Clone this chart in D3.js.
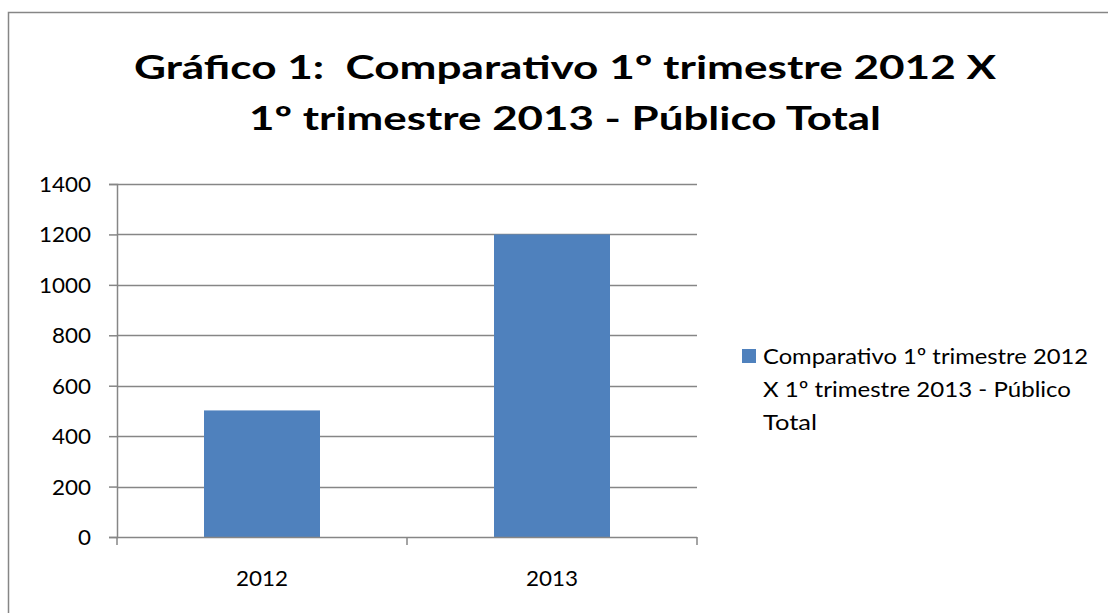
<!DOCTYPE html>
<html>
<head>
<meta charset="utf-8">
<script src="https://cdn.jsdelivr.net/npm/d3@7"></script>
<style>
  body { margin: 0; background: #fff; }
  text { font-family: Lato, "Open Sans", sans-serif; fill: #000; }
</style>
</head>
<body>
<div id="chart"></div>
<script>
// Dados
const categories = ["2012", "2013"];
const values = [502, 1200];
const yTicks = [0, 200, 400, 600, 800, 1000, 1200, 1400];
const titleLines = ["Gráfico 1:\u00a0 Comparativo 1º trimestre 2012 X", "1º trimestre 2013 - Público Total"];
const legendLines = ["Comparativo 1º trimestre 2012", "X 1º trimestre 2013 - Público", "Total"];

const W = 1108, H = 613;
const margin = { top: 184, right: 411, bottom: 76, left: 117 },
    width = W - margin.left - margin.right,
    height = H - margin.top - margin.bottom;

// largura alvo (em px) do texto, para imitar a fonte larga do original
const titleWidths = [862, 632];
const legendWidths = [325, 308, 54];
const digitWidth = 13;

const svg = d3.select("#chart")
    .append("svg")
    .attr("width", W)
    .attr("height", H);

// Borda externa
svg.append("rect")
    .attr("x", 8.5).attr("y", 12.5)
    .attr("width", W + 20).attr("height", H + 20)
    .attr("fill", "white")
    .attr("stroke", "#868686")
    .attr("stroke-width", 1.5);

// Título
svg.selectAll(".title")
    .data(titleLines)
    .join("text")
    .attr("class", "title")
    .attr("x", 565)
    .attr("y", (d, i) => 79 + i * 51)
    .attr("text-anchor", "middle")
    .attr("textLength", (d, i) => titleWidths[i])
    .attr("lengthAdjust", "spacingAndGlyphs")
    .style("font-size", "33px")
    .style("font-weight", "bold")
    .text(d => d);

const g = svg.append("g")
    .attr("transform", `translate(${margin.left},${margin.top})`);

const x = d3.scaleBand()
    .domain(categories)
    .range([0, width])
    .paddingInner(0.6)
    .paddingOuter(0.3);

const y = d3.scaleLinear()
    .domain([0, 1400])
    .range([height, 0]);

// Grade
g.append("g")
    .selectAll("line")
    .data(yTicks.filter(d => d > 0))
    .join("line")
    .attr("x1", 0).attr("x2", width)
    .attr("y1", d => Math.round(y(d)) + 0.5)
    .attr("y2", d => Math.round(y(d)) + 0.5)
    .attr("stroke", "#868686")
    .attr("stroke-width", 1.5);

// Barras
g.append("g")
    .selectAll("rect")
    .data(values)
    .join("rect")
    .attr("x", (d, i) => x(categories[i]))
    .attr("y", d => y(d))
    .attr("width", x.bandwidth())
    .attr("height", d => height - y(d))
    .attr("fill", "#4f81bd");

// Eixo Y
const yAxis = g.append("g")
    .call(d3.axisLeft(y).tickValues(yTicks).tickFormat(d3.format("d")).tickSize(8).tickPadding(18));
yAxis.select(".domain").attr("stroke", "#868686").attr("stroke-width", 1.5);
yAxis.selectAll(".tick line").attr("stroke", "#868686").attr("stroke-width", 1.5);
yAxis.selectAll(".tick text")
    .attr("font-size", null)
    .attr("font-family", null)
    .attr("fill", "#000")
    .attr("dy", "0.36em")
    .attr("textLength", d => String(d).length * digitWidth)
    .attr("lengthAdjust", "spacingAndGlyphs")
    .style("font-size", "21px");
yAxis.attr("font-size", null).attr("font-family", null);

// Eixo X
const xTicksPos = d3.range(categories.length + 1).map(i => i * width / categories.length);
const xAxis = g.append("g").attr("transform", `translate(0,${height})`);
xAxis.append("line")
    .attr("x1", 0).attr("x2", width)
    .attr("y1", 0.5).attr("y2", 0.5)
    .attr("stroke", "#868686").attr("stroke-width", 1.5);
xAxis.selectAll(".xt")
    .data(xTicksPos)
    .join("line")
    .attr("class", "xt")
    .attr("x1", d => d).attr("x2", d => d)
    .attr("y1", 0).attr("y2", 8)
    .attr("stroke", "#868686").attr("stroke-width", 1.5);
xAxis.selectAll(".xl")
    .data(categories)
    .join("text")
    .attr("class", "xl")
    .attr("x", d => x(d) + x.bandwidth() / 2)
    .attr("y", 49)
    .attr("text-anchor", "middle")
    .attr("textLength", d => d.length * digitWidth)
    .attr("lengthAdjust", "spacingAndGlyphs")
    .style("font-size", "21px")
    .text(d => d);

// Legenda
const legend = svg.append("g").attr("transform", "translate(742,349)");
legend.append("rect")
    .attr("width", 14).attr("height", 14)
    .attr("fill", "#4f81bd");
legend.selectAll("text")
    .data(legendLines)
    .join("text")
    .attr("x", 21)
    .attr("y", (d, i) => 15 + i * 33)
    .attr("textLength", (d, i) => legendWidths[i])
    .attr("lengthAdjust", "spacingAndGlyphs")
    .style("font-size", "22px")
    .text(d => d);
</script>
</body>
</html>
